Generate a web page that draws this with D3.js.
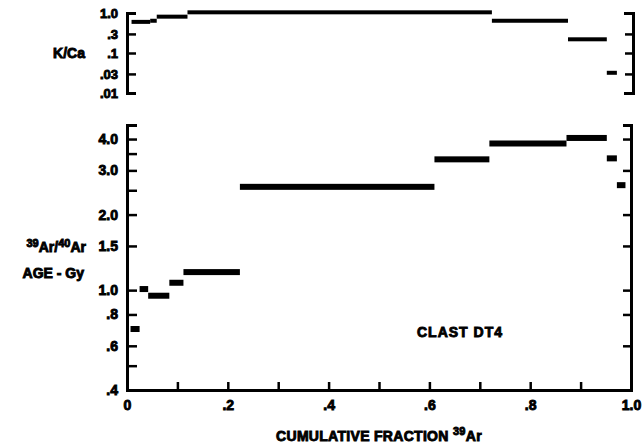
<!DOCTYPE html>
<html>
<head>
<meta charset="utf-8">
<script src="https://cdn.jsdelivr.net/npm/d3@7"></script>
<style>
  body { margin: 0; background: #fff; }
  svg { display: block; }
  text { font-family: "Liberation Sans", Arial, sans-serif; font-weight: bold; fill: #000; stroke: #000; stroke-width: 0.9px; }
  .axis path, .axis line { stroke: #000; fill: none; }
  .axis path { stroke-width: 3px; }
  .axis line { stroke-width: 2.5px; }
  .axis text { stroke-width: 0.9px; }
</style>
</head>
<body>
<svg id="chart" width="642" height="447"></svg>
<script>
// step edges (cumulative fraction 39Ar) and values
var ageEdges = [0.007, 0.025, 0.042, 0.084, 0.112, 0.224, 0.61, 0.719, 0.872, 0.952, 0.972, 0.989];
var ageValues = [0.70, 1.01, 0.95, 1.07, 1.18, 2.58, 3.32, 3.84, 4.04, 3.35, 2.62];

var kcaEdges = [0.009, 0.046, 0.059, 0.12, 0.724, 0.875, 0.952, 0.972];
var kcaValues = [0.60, 0.64, 0.81, 1.04, 0.64, 0.22, 0.032];

// ticks
var xTicks = [0, 0.1, 0.2, 0.3, 0.4, 0.5, 0.6, 0.7, 0.8, 0.9, 1.0];
var xLabelValues = [0, 0.2, 0.4, 0.6, 0.8, 1.0];
var xLabelText = ['0', '.2', '.4', '.6', '.8', '1.0'];

var ageTicks = [0.4, 0.5, 0.6, 0.8, 1.0, 1.5, 2.0, 2.5, 3.0, 3.5, 4.0];
var ageRightTicks = [0.6, 0.8, 1.0, 1.5, 2.0, 3.0, 4.0];
var ageLabelValues = [0.4, 0.6, 0.8, 1.0, 1.5, 2.0, 3.0, 4.0];
var ageLabelText = ['.4', '.6', '.8', '1.0', '1.5', '2.0', '3.0', '4.0'];

var kcaTicks = [0.01, 0.03, 0.1, 0.3, 1.0];
var kcaLabelText = ['.01', '.03', '.1', '.3', '1.0'];

var svg = d3.select('#chart');

var x = d3.scaleLinear().domain([0, 1]).range([127, 631]);
var yAge = d3.scaleLog().domain([0.4, 4.55]).range([390, 125]);
var yKca = d3.scaleLog().domain([0.01, 1.0]).range([93, 13]);

function labelFor(values, texts) {
  return function(d) {
    var i = values.findIndex(function(v) { return Math.abs(v - d) < 1e-9; });
    return i < 0 ? '' : texts[i];
  };
}

// ---- K/Ca panel
svg.append('g')
  .attr('class', 'axis')
  .attr('transform', 'translate(' + x(0) + ',0)')
  .call(d3.axisLeft(yKca).tickValues(kcaTicks)
    .tickFormat(labelFor(kcaTicks, kcaLabelText))
    .tickSizeInner(-9).tickSizeOuter(-9).tickPadding(9))
  .call(function(g) { g.selectAll('text').style('font-size', '13px'); });

svg.append('g')
  .attr('class', 'axis')
  .attr('transform', 'translate(' + (x(1) + 2) + ',0)')
  .call(d3.axisRight(yKca).tickValues(kcaTicks.slice(1, 4))
    .tickFormat('').tickSizeInner(-8).tickSizeOuter(-9));

svg.append('g')
  .selectAll('rect')
  .data(kcaValues)
  .join('rect')
  .attr('x', function(d, i) { return x(kcaEdges[i]); })
  .attr('width', function(d, i) { return x(kcaEdges[i + 1]) - x(kcaEdges[i]); })
  .attr('y', function(d) { return yKca(d) - 2; })
  .attr('height', 4)
  .attr('fill', '#000');

svg.append('text')
  .attr('x', 85).attr('y', 58)
  .attr('text-anchor', 'end')
  .style('font-size', '14px')
  .text('K/Ca');

// ---- age panel
svg.append('g')
  .attr('class', 'axis')
  .attr('transform', 'translate(' + x(0) + ',0)')
  .call(d3.axisLeft(yAge).tickValues(ageTicks)
    .tickFormat(labelFor(ageLabelValues, ageLabelText))
    .tickSizeInner(-10).tickSizeOuter(-10).tickPadding(9))
  .call(function(g) { g.selectAll('text').style('font-size', '14px'); });

svg.append('g')
  .attr('class', 'axis')
  .attr('transform', 'translate(' + x(1) + ',0)')
  .call(d3.axisRight(yAge).tickValues(ageRightTicks)
    .tickFormat('').tickSizeInner(-8).tickSizeOuter(-8));

svg.append('g')
  .attr('class', 'axis')
  .attr('transform', 'translate(0,' + yAge(0.4) + ')')
  .call(d3.axisBottom(x).tickValues(xTicks)
    .tickFormat(labelFor(xLabelValues, xLabelText))
    .tickSizeInner(-8).tickSizeOuter(0).tickPadding(10))
  .call(function(g) { g.selectAll('text').style('font-size', '14px'); });

svg.append('g')
  .selectAll('rect')
  .data(ageValues)
  .join('rect')
  .attr('x', function(d, i) { return x(ageEdges[i]); })
  .attr('width', function(d, i) { return x(ageEdges[i + 1]) - x(ageEdges[i]); })
  .attr('y', function(d) { return yAge(d) - 3; })
  .attr('height', 6)
  .attr('fill', '#000');

var ageLabel = svg.append('text')
  .attr('x', 86).attr('y', 252)
  .attr('text-anchor', 'end')
  .style('font-size', '14px');
ageLabel.append('tspan').attr('dy', -5).style('font-size', '11px').text('39');
ageLabel.append('tspan').attr('dy', 5).text('Ar/');
ageLabel.append('tspan').attr('dy', -5).style('font-size', '11px').text('40');
ageLabel.append('tspan').attr('dy', 5).text('Ar');

svg.append('text')
  .attr('x', 84).attr('y', 278)
  .attr('text-anchor', 'end')
  .style('font-size', '14px')
  .text('AGE - Gy');

svg.append('text')
  .attr('x', 460).attr('y', 337)
  .attr('text-anchor', 'middle')
  .style('font-size', '14px')
  .style('letter-spacing', '1px')
  .text('CLAST DT4');

var xLabel = svg.append('text')
  .attr('x', 379).attr('y', 441)
  .attr('text-anchor', 'middle')
  .style('font-size', '14px')
  .style('letter-spacing', '0.3px');
xLabel.append('tspan').text('CUMULATIVE FRACTION ');
xLabel.append('tspan').attr('dy', -6).style('font-size', '11px').text('39');
xLabel.append('tspan').attr('dy', 6).text('Ar');
</script>
</body>
</html>
